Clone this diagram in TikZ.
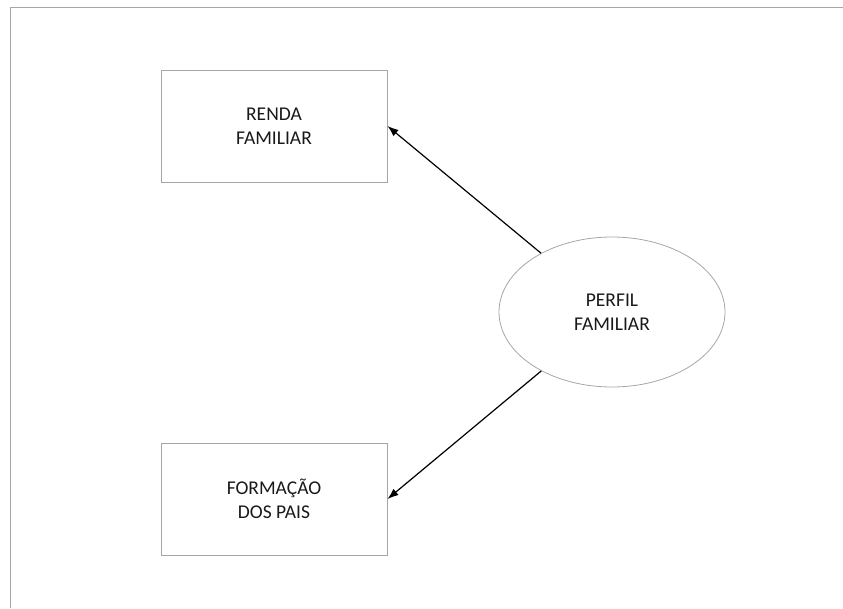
\documentclass[tikz,border=0pt]{standalone}
\usepackage{fontspec}
\setmainfont{Carlito}
\usetikzlibrary{shapes.geometric,arrows.meta}
\definecolor{edgegrey}{HTML}{A6A6A6}
\begin{document}
\begin{tikzpicture}[x=1pt,y=-1pt,
  every node/.style={font=\fontsize{19.5}{23.5}\selectfont, align=center, text=black!90},
  factorbox/.style={draw=edgegrey, line width=1pt, rectangle, minimum width=226pt, minimum height=112pt, inner sep=0pt},
  latent/.style={draw=edgegrey, line width=0.8pt, ellipse, minimum width=226pt, minimum height=150pt, inner sep=0pt},
  loading/.style={draw=black, line width=1.2pt, -{Latex[length=11pt,width=8pt]}}]
  \useasboundingbox (0,0) rectangle (843,608);
  % outer frame (top and left edges)
  \draw[edgegrey, line width=1pt] (10,608) -- (10,7) -- (843,7);
  % observed variables
  \node[factorbox] (renda) at (274,126) {RENDA\\FAMILIAR};
  \node[factorbox] (formacao) at (274,499) {FORMAÇÃO\\DOS PAIS};
  % latent construct
  \node[latent] (perfil) at (612,312) {PERFIL\\FAMILIAR};
  % paths
  \draw[loading] (perfil) -- (renda.east);
  \draw[loading] (perfil) -- (formacao.east);
\end{tikzpicture}
\end{document}
